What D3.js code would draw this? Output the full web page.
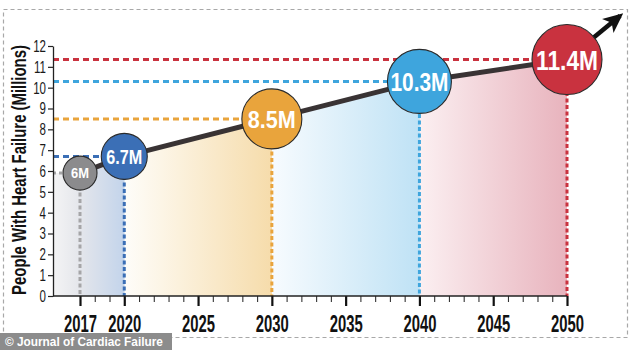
<!DOCTYPE html>
<html>
<head>
<meta charset="utf-8">
<script src="https://cdn.jsdelivr.net/npm/d3@7"></script>
<style>
  html, body { margin: 0; padding: 0; background: #fff; }
  svg { display: block; }
  .cond { font-family: "Liberation Sans", Arial, sans-serif; }
</style>
</head>
<body>
<script>
// ---- data ----
const years = [2017, 2020, 2030, 2040, 2050];
const values = [5.9, 6.7, 8.5, 10.3, 11.35];
const labels = ["6M", "6.7M", "8.5M", "10.3M", "11.4M"];
const colors = ["#8b8b8d", "#3b6fb6", "#e9a43c", "#3ea5dd", "#c9323f"];
const yTicks = [0, 1, 2, 3, 4, 5, 6, 7, 8, 9, 10, 11, 12];
const xMajorTicks = [2017, 2020, 2025, 2030, 2035, 2040, 2045, 2050];
const arrowTip = [2053.6, 13.45];
const yTitle = "People With Heart Failure (Millions)";
const credit = "© Journal of Cardiac Failure";

// ---- styles ----
const circleR = [17, 23, 30, 32, 35];
const labelFont = [15, 21, 24, 26, 28];
const labelWidth = [18, 36, 48, 58, 62];

// ---- layout ----
const W = 634, H = 350;
const svg = d3.select("body").append("svg").attr("width", W).attr("height", H);

const axisX = 53, axisY = 296;
const x = d3.scaleLinear().domain([2017, 2050]).range([80, 567]);
const y = d3.scaleLinear().domain([0, 12]).range([296, 46]);

// condense text horizontally (keeps real text) by scaling around its anchor
function condenseTo(sel, widthFn, baseTransform) {
  sel.each(function (d, i) {
    const el = d3.select(this);
    const w = this.getComputedTextLength();
    const f = widthFn(d, i, w) / w;
    const xAttr = +(el.attr("x") || 0);
    el.attr("x", xAttr / f);
    const bt = baseTransform ? baseTransform(d, i) + " " : "";
    el.attr("transform", `${bt}scale(${f},1)`);
  });
}

// outer dashed frame
svg.append("rect").attr("x", 3.5).attr("y", 9.5).attr("width", 624).attr("height", 328)
  .attr("fill", "none").attr("stroke", "#a8a8a8").attr("stroke-width", 1.2).attr("stroke-dasharray", "4,3");

// gradient for area
const defs = svg.append("defs");
const grad = defs.append("linearGradient").attr("id", "bandGrad")
  .attr("gradientUnits", "userSpaceOnUse")
  .attr("x1", axisX).attr("x2", x(2050)).attr("y1", 0).attr("y2", 0);
const span = x(2050) - axisX;
const off = v => ((v - axisX) / span);
const stops = [
  [axisX, "#f4f4f5"], [x(2017), "#e4e6eb"], [x(2020), "#c3d4eb"],
  [x(2020) + 0.5, "#fefdf9"], [x(2030), "#f6dcab"],
  [x(2030) + 0.5, "#f7fbfe"], [x(2040), "#bfe2f5"],
  [x(2040) + 0.5, "#fbeff1"], [x(2050), "#e8b3bd"]
];
stops.forEach(s => grad.append("stop").attr("offset", off(s[0])).attr("stop-color", s[1]));

const areaPts = [[x.invert(axisX), values[0]]].concat(years.map((yr, i) => [yr, values[i]]));
svg.append("path")
  .datum(areaPts)
  .attr("fill", "url(#bandGrad)")
  .attr("d", d3.area().x(d => x(d[0])).y0(y(0)).y1(d => y(d[1])));

// dashed guide lines
years.forEach((yr, i) => {
  const isGray = i === 0;
  svg.append("line")
    .attr("x1", axisX).attr("x2", x(yr)).attr("y1", y(values[i])).attr("y2", y(values[i]))
    .attr("stroke", isGray ? "#a5a5a7" : colors[i]).attr("stroke-width", 3)
    .attr("stroke-dasharray", isGray ? "3,3" : "6,4");
  svg.append("line")
    .attr("x1", x(yr)).attr("x2", x(yr)).attr("y1", y(values[i])).attr("y2", y(0))
    .attr("stroke", isGray ? "#a5a5a7" : colors[i]).attr("stroke-width", 3)
    .attr("stroke-dasharray", "4,2.5");
});

// axes
const yAxis = d3.axisLeft(y).tickValues(yTicks).tickSize(5).tickSizeOuter(0).tickPadding(2).tickFormat(d3.format("d"));
const gy = svg.append("g").attr("transform", `translate(${axisX},0)`).call(yAxis);
gy.select(".domain").attr("stroke", "#222").attr("stroke-width", 1.3);
gy.selectAll(".tick line").attr("stroke", "#222").attr("stroke-width", 1.2);
gy.selectAll(".tick text").attr("class", "cond").attr("font-size", 17).attr("fill", "#1a1a1a")
  .call(condenseTo, (d, i, w) => w * 0.68);

const gxMinor = svg.append("g").attr("transform", `translate(0,${axisY})`)
  .call(d3.axisBottom(x).tickValues(d3.range(2017, 2051).filter(v => !xMajorTicks.includes(v)))
    .tickSize(6).tickSizeOuter(0).tickFormat(""));
gxMinor.select(".domain").remove();
gxMinor.selectAll(".tick line").attr("stroke", "#333").attr("stroke-width", 1.1);

const gx = svg.append("g").attr("transform", `translate(0,${axisY})`)
  .call(d3.axisBottom(x).tickValues(xMajorTicks).tickSize(10).tickSizeOuter(0).tickPadding(5).tickFormat(d3.format("d")));
gx.select(".domain").remove();
gx.selectAll(".tick line").attr("stroke", "#111").attr("stroke-width", 2.2);
gx.selectAll(".tick text").attr("class", "cond").attr("font-size", 23).attr("font-weight", "bold")
  .attr("fill", "#111").attr("dy", "0.9em")
  .call(condenseTo, () => 33);

svg.append("line").attr("x1", axisX).attr("x2", x(2050)).attr("y1", axisY).attr("y2", axisY)
  .attr("stroke", "#222").attr("stroke-width", 1.4);

// y title
svg.append("text").attr("class", "cond")
  .attr("text-anchor", "middle").attr("font-size", 21).attr("font-weight", "bold").attr("fill", "#111")
  .text(yTitle)
  .call(condenseTo, () => 250, () => `translate(26,${(y(0) + y(12)) / 2 - 1}) rotate(-90)`);

// trend line + arrow
defs.append("marker").attr("id", "arrowHead")
  .attr("viewBox", "0 -10 20 20").attr("refX", 16).attr("refY", 0)
  .attr("markerWidth", 20).attr("markerHeight", 20).attr("markerUnits", "userSpaceOnUse")
  .attr("orient", "auto")
  .append("path").attr("d", "M0,-9 L20,0 L0,9 L5,0 Z").attr("fill", "#111");

const linePts = years.map((yr, i) => [yr, values[i]]);
svg.append("path").datum(linePts)
  .attr("fill", "none").attr("stroke", "#393334").attr("stroke-width", 5).attr("stroke-linejoin", "round")
  .attr("d", d3.line().x(d => x(d[0])).y(d => y(d[1])));
svg.append("path").datum([linePts[linePts.length - 1], arrowTip])
  .attr("fill", "none").attr("stroke", "#111").attr("stroke-width", 4.5)
  .attr("marker-end", "url(#arrowHead)")
  .attr("d", d3.line().x(d => x(d[0])).y(d => y(d[1])));

// circles
const g = svg.append("g").selectAll("g").data(years).join("g")
  .attr("transform", (d, i) => `translate(${x(d)},${y(values[i])})`);
g.append("circle").attr("r", (d, i) => circleR[i])
  .attr("fill", (d, i) => colors[i]).attr("stroke", "#2a2a2a").attr("stroke-width", 1.1);
g.append("text").attr("class", "cond").attr("text-anchor", "middle").attr("dy", "0.36em")
  .attr("fill", "#fff").attr("font-size", (d, i) => labelFont[i])
  .attr("font-weight", "bold")
  .text((d, i) => labels[i])
  .call(condenseTo, (d, i) => labelWidth[i]);

// credit
svg.append("rect").attr("x", 0).attr("y", 333).attr("width", 172).attr("height", 17).attr("fill", "#8c8c8c");
svg.append("text").attr("x", 5).attr("y", 346.5)
  .attr("font-family", "Liberation Sans, Arial, sans-serif").attr("font-size", 13).attr("font-weight", "bold")
  .attr("fill", "#fff").text(credit)
  .call(condenseTo, () => 158);
</script>
</body>
</html>
